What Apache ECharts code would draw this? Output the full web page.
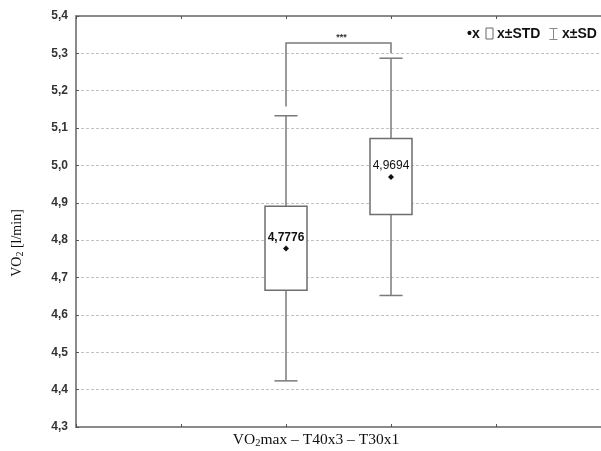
<!DOCTYPE html>
<html><head><meta charset="utf-8">
<script src="https://cdn.jsdelivr.net/npm/echarts@6/dist/echarts.min.js"></script>
<style>html,body{margin:0;padding:0;background:#fff}#c{width:601px;height:451px}</style>
</head><body><div id="c"></div>
<script>
// ---- data ----
const groupPositions = [2, 3];            // position of each group on the x scale
const means   = [4.7776, 4.9694];
const stdLow  = [4.666, 4.869];           // mean - STD (box bottom)
const stdHigh = [4.891, 5.072];           // mean + STD (box top)
const sdLow   = [4.4235, 4.652];          // whisker bottom
const sdHigh  = [5.133, 5.287];           // whisker top
const bracketLegs = [5.158, 5.300];       // bottom of left / right leg of significance bracket
const bracketTop = 5.328;
const bracketLabel = '***';
const yMin = 4.3, yMax = 5.4, yStep = 0.1;
const xMin = 0, xMax = 5, xStep = 1;

const boxData = groupPositions.map((x, i) => [x, sdLow[i], stdLow[i], means[i], stdHigh[i], sdHigh[i]]);
const bracketData = [[groupPositions[0], bracketLegs[0], groupPositions[1], bracketLegs[1], bracketTop]];

const gray = '#8a8a8a';
const sans = '"Liberation Sans", Arial, sans-serif';
const serif = '"Liberation Serif", "Times New Roman", serif';

function fmt(v, d) { return v.toFixed(d).replace('.', ','); }

function renderBox(params, api) {
  const x = api.value(0);
  const pLo = api.coord([x, api.value(1)]);
  const pQ1 = api.coord([x, api.value(2)]);
  const pM  = api.coord([x, api.value(3)]);
  const pQ3 = api.coord([x, api.value(4)]);
  const pHi = api.coord([x, api.value(5)]);
  const hw = api.size([0.4, 0])[0] / 2;
  const cw = api.size([0.22, 0])[0] / 2;
  const cx = pM[0];
  const ls = { stroke: '#7a7a7a', lineWidth: 1.5 };
  const m = 3;
  return {
    type: 'group',
    children: [
      { type: 'line', shape: { x1: cx, y1: pHi[1], x2: cx, y2: pQ3[1] }, style: ls },
      { type: 'line', shape: { x1: cx, y1: pQ1[1], x2: cx, y2: pLo[1] }, style: ls },
      { type: 'line', shape: { x1: cx - cw, y1: pHi[1], x2: cx + cw, y2: pHi[1] }, style: ls },
      { type: 'line', shape: { x1: cx - cw, y1: pLo[1], x2: cx + cw, y2: pLo[1] }, style: ls },
      { type: 'rect', shape: { x: cx - hw, y: pQ3[1], width: 2 * hw, height: pQ1[1] - pQ3[1] },
        style: { fill: '#fff', stroke: '#6e6e6e', lineWidth: 1.5 } },
      { type: 'polygon', shape: { points: [[cx, pM[1] - m], [cx + m, pM[1]], [cx, pM[1] + m], [cx - m, pM[1]]] },
        style: { fill: '#111' } },
      { type: 'text', style: { text: fmt(api.value(3), 4), x: cx, y: pM[1] - 11, align: 'center', verticalAlign: 'middle',
        font: (params.dataIndex === 0 ? 'bold ' : '') + '12px ' + sans, fill: '#111' } }
    ]
  };
}

function renderBracket(params, api) {
  const a = api.coord([api.value(0), api.value(1)]);
  const b = api.coord([api.value(2), api.value(3)]);
  const top = api.coord([api.value(0), api.value(4)])[1];
  return {
    type: 'group',
    children: [
      { type: 'polyline', shape: { points: [[a[0], a[1]], [a[0], top], [b[0], top], [b[0], b[1]]] },
        style: { stroke: '#7a7a7a', lineWidth: 1.5, fill: null } },
      { type: 'text', style: { text: bracketLabel, x: (a[0] + b[0]) / 2 + 3, y: top - 5, align: 'center', verticalAlign: 'middle',
        font: 'bold 9px ' + sans, fill: '#333' } }
    ]
  };
}

const chart = echarts.init(document.getElementById('c'));
chart.setOption({
  animation: false,
  backgroundColor: '#fff',
  grid: { left: 76, right: -7, top: 16, bottom: 24 },
  xAxis: [
    { type: 'value', min: xMin, max: xMax, interval: xStep, position: 'bottom',
      axisLine: { show: true, lineStyle: { color: gray, width: 2 } },
      axisTick: { show: true, inside: true, length: 3, lineStyle: { color: '#555' } },
      axisLabel: { show: false }, splitLine: { show: false } },
    { type: 'value', min: xMin, max: xMax, interval: xStep, position: 'top',
      axisLine: { show: true, lineStyle: { color: gray, width: 2 } },
      axisTick: { show: true, inside: true, length: 3, lineStyle: { color: '#555' } },
      axisLabel: { show: false }, splitLine: { show: false } }
  ],
  yAxis: {
    type: 'value', min: yMin, max: yMax, interval: yStep,
    axisLine: { show: true, lineStyle: { color: gray, width: 2 } },
    axisTick: { show: true, inside: true, length: 3, lineStyle: { color: '#555' } },
    axisLabel: { margin: 8, formatter: v => fmt(v, 1), color: '#333', fontSize: 12, fontWeight: 'bold', fontFamily: sans },
    splitLine: { show: true, lineStyle: { color: '#c4c4c4', type: [3, 2], width: 1 } }
  },
  series: [
    { type: 'custom', renderItem: renderBox, data: boxData, encode: { x: 0, y: [1, 2, 3, 4, 5] }, z: 3 },
    { type: 'custom', renderItem: renderBracket, data: bracketData, encode: { x: [0, 2], y: [1, 3, 4] }, z: 3 }
  ],
  graphic: [
    { type: 'text', x: 17, y: 243, rotation: Math.PI / 2,
      style: { text: '{a|VO}{s|2}{a| [l/min]}', align: 'center', verticalAlign: 'middle',
        rich: { a: { fontFamily: serif, fontSize: 14, fill: '#111', lineHeight: 16 },
                s: { fontFamily: serif, fontSize: 10, fill: '#111', verticalAlign: 'bottom', lineHeight: 16 } } } },
    { type: 'text', x: 316, y: 440,
      style: { text: '{a|VO}{s|2}{a|max – T40x3 – T30x1}', align: 'center', verticalAlign: 'middle',
        rich: { a: { fontFamily: serif, fontSize: 15.5, fill: '#111', lineHeight: 17 },
                s: { fontFamily: serif, fontSize: 10.5, fill: '#111', verticalAlign: 'bottom', lineHeight: 17 } } } },
    // legend
    { type: 'text', x: 467, y: 34, style: { text: '•x', font: 'bold 14px ' + sans, fill: '#111', verticalAlign: 'middle' } },
    { type: 'rect', shape: { x: 486, y: 28, width: 7, height: 11 }, style: { fill: '#fff', stroke: '#666', lineWidth: 1 } },
    { type: 'text', x: 497, y: 34, style: { text: 'x±STD', font: 'bold 14px ' + sans, fill: '#111', verticalAlign: 'middle' } },
    { type: 'polyline', shape: { points: [[549.5, 28.5], [557.5, 28.5]] }, style: { stroke: '#888', lineWidth: 1 } },
    { type: 'polyline', shape: { points: [[549.5, 39.5], [557.5, 39.5]] }, style: { stroke: '#888', lineWidth: 1 } },
    { type: 'polyline', shape: { points: [[553.5, 28.5], [553.5, 39.5]] }, style: { stroke: '#888', lineWidth: 1 } },
    { type: 'text', x: 562, y: 34, style: { text: 'x±SD', font: 'bold 14px ' + sans, fill: '#111', verticalAlign: 'middle' } }
  ]
});
</script>
</body></html>
